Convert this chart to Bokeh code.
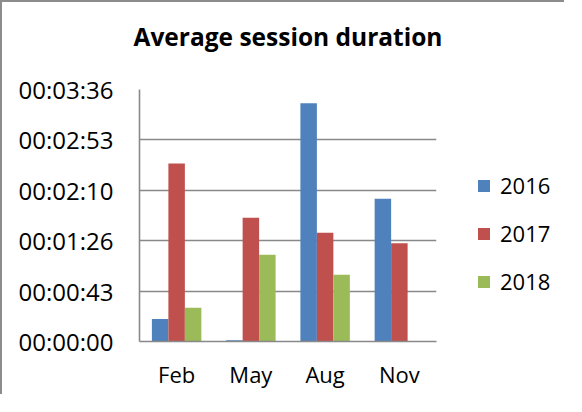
from bokeh.plotting import figure
from bokeh.layouts import row
from bokeh.models import Range1d, FactorRange, FixedTicker, CustomJSTickFormatter, Legend, LegendItem, ColumnDataSource
from bokeh.transform import dodge
from bokeh.embed import file_html
from bokeh.resources import INLINE

# ---- data (seconds) ----
months = ["Feb", "May", "Aug", "Nov"]
years = ["2016", "2017", "2018"]
s2016 = [19.3, 1.1, 204.3, 122.3]
s2017 = [152.5, 106.0, 93.3, 84.2]
s2018 = [29.0, 74.3, 57.2, 0.0]
y_ticks = [0, 43.2, 86.4, 129.6, 172.8, 216]
colors = ["#4F81BD", "#C0504D", "#9BBB59"]
title_text = "Average session duration"

FONT = "Open Sans"
GRAY = "#898989"
BORDER = "2px solid #8c8c8c"

p = figure(x_range=months, y_range=Range1d(0, 216), width=454, height=394,
           output_backend="svg", toolbar_location=None,
           min_border_left=137, min_border_right=20, min_border_top=87, min_border_bottom=55)
p.styles = {"border-left": BORDER, "border-top": BORDER}

p.title.text = title_text + "\n"
p.title.text_font = FONT
p.title.text_font_size = "24.5px"
p.title.text_font_style = "bold"
p.title.text_line_height = 1.0
p.title.align = "center"
p.title.vertical_align = "top"
p.title.standoff = 4
p.title.text_color = "black"

cds = ColumnDataSource({"month": months, "2016": s2016, "2017": s2017, "2018": s2018})
w = 0.222
offs = [-w, 0.0, w]
for yr, off, c in zip(years, offs, colors):
    p.vbar(x=dodge("month", off, range=p.x_range), top=yr, width=w, source=cds,
           fill_color=c, line_color=None)

p.yaxis.ticker = FixedTicker(ticks=y_ticks)
p.yaxis.formatter = CustomJSTickFormatter(code="""
const s = Math.round(tick);
const h = Math.floor(s/3600), m = Math.floor((s%3600)/60), ss = s%60;
const f = (v) => String(v).padStart(2, '0');
return f(h) + ':' + f(m) + ':' + f(ss);
""")
for ax in (p.xaxis, p.yaxis):
    ax.axis_line_color = GRAY
    ax.axis_line_width = 1.6
    ax.major_tick_line_color = None
    ax.minor_tick_line_color = None
    ax.major_label_text_font = FONT
    ax.major_label_text_color = "black"
p.yaxis.major_label_text_font_size = "24px"
p.xaxis.major_label_text_font_size = "22px"
p.yaxis.major_label_standoff = 20
p.xaxis.major_label_standoff = 11

p.xgrid.grid_line_color = None
p.ygrid.grid_line_color = GRAY
p.ygrid.grid_line_width = 1.6
p.ygrid.ticker = FixedTicker(ticks=y_ticks)
p.outline_line_color = None
p.x_range.range_padding = 0

# ---- legend panel (separate canvas so the legend is not clipped by the frame) ----
p2 = figure(width=110, height=394, x_range=FactorRange(factors=months), y_range=Range1d(-1000, -999),
            x_axis_type=None, y_axis_type=None, output_backend="svg", toolbar_location=None,
            min_border=0, min_border_left=0, min_border_right=0, min_border_top=0, min_border_bottom=0)
p2.styles = {"border-top": BORDER}
p2.grid.visible = False
p2.outline_line_color = None
items = []
for yr, off, c in zip(years, offs, colors):
    # zero-size, out-of-view copies of each series: they only supply the legend swatches
    r = p2.vbar(x=dodge("month", off, range=p2.x_range), top=yr, bottom=yr, width=0, source=cds,
                fill_color=c, line_color=None)
    items.append(LegendItem(label=yr, renderers=[r]))
legend = Legend(items=items, location=(22, 45), orientation="vertical")
legend.border_line_color = None
legend.background_fill_alpha = 0
legend.label_text_font = FONT
legend.label_text_font_size = "22px"
legend.label_text_color = "black"
legend.glyph_width = 15
legend.glyph_height = 15
legend.label_standoff = 9
legend.label_height = 30
legend.spacing = 18
legend.padding = 0
legend.margin = 0
p2.add_layout(legend, "center")

layout = row(p, p2, spacing=0)
open("out.html", "w").write(file_html(layout, INLINE))
